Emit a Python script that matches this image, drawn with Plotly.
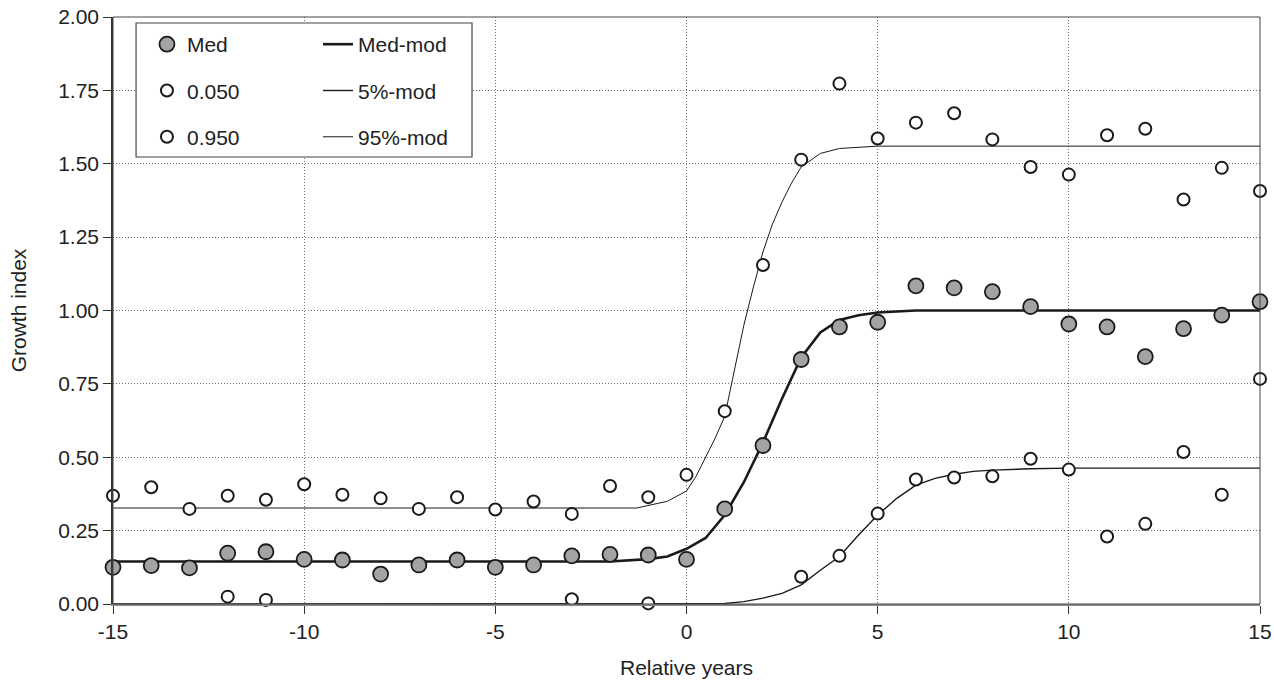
import plotly.graph_objects as go

# ---- data ----
years = list(range(-15, 16))
med = [0.125, 0.131, 0.123, 0.173, 0.178, 0.152, 0.150, 0.102, 0.133, 0.150,
       0.125, 0.133, 0.164, 0.169, 0.167, 0.152, 0.324, 0.540, 0.833, 0.944,
       0.960, 1.084, 1.077, 1.064, 1.013, 0.954, 0.944, 0.843, 0.938, 0.984, 1.030]
q050 = [None, None, None, 0.025, 0.014, None, None, None, None, None,
        None, None, 0.016, None, 0.002, None, None, None, 0.093, 0.164,
        0.308, 0.424, 0.431, 0.435, 0.495, 0.458, 0.230, 0.273, 0.518, 0.372, 0.767]
q950 = [0.369, 0.398, 0.324, 0.369, 0.355, 0.408, 0.372, 0.360, 0.324, 0.364,
        0.322, 0.349, 0.307, 0.402, 0.364, 0.440, 0.657, 1.155, 1.514, 1.773,
        1.586, 1.640, 1.672, 1.583, 1.489, 1.463, 1.597, 1.619, 1.378, 1.486, 1.407]

med_mod_x = [-15, -2, -1, -0.5, 0, 0.5, 1, 1.5, 2, 2.5, 3, 3.5, 4, 4.5, 5, 6, 15]
med_mod_y = [0.145, 0.145, 0.153, 0.162, 0.188, 0.225, 0.303, 0.415, 0.55, 0.70,
             0.84, 0.925, 0.968, 0.984, 0.993, 1.0, 1.0]
p05_mod_x = [-15, 0, 1, 1.5, 2, 2.5, 3, 3.5, 4, 4.5, 5, 5.5, 6, 6.5, 7, 7.5, 8, 9, 10, 15]
p05_mod_y = [0.0, 0.0, 0.002, 0.008, 0.02, 0.036, 0.065, 0.115, 0.162, 0.235, 0.303,
             0.36, 0.405, 0.428, 0.442, 0.452, 0.456, 0.461, 0.463, 0.463]
p95_mod_x = [-15, -1.3, -0.5, 0, 0.25, 0.5, 0.75, 1, 1.25, 1.5, 1.75, 2, 2.25, 2.5,
             2.75, 3, 3.5, 4, 5, 15]
p95_mod_y = [0.327, 0.327, 0.35, 0.385, 0.435, 0.50, 0.565, 0.639, 0.79, 0.95, 1.08,
             1.20, 1.295, 1.37, 1.435, 1.489, 1.535, 1.552, 1.56, 1.56]

x_ticks = [-15, -10, -5, 0, 5, 10, 15]
y_ticks = [0, 0.25, 0.5, 0.75, 1.0, 1.25, 1.5, 1.75, 2.0]

# ---- style ----
FONT = "Liberation Sans, Arial, sans-serif"
TXT = "#222222"
FS = 21
GRID_DASH = "1px,2px"

fig = go.Figure()

# model lines (drawn first, below markers)
fig.add_trace(go.Scatter(x=med_mod_x, y=med_mod_y, mode="lines", name="Med-mod",
                         line=dict(color="#1a1a1a", width=2.6),
                         legend="legend2", legendgroup="a"))
fig.add_trace(go.Scatter(x=p05_mod_x, y=p05_mod_y, mode="lines", name="5%-mod",
                         line=dict(color="#1a1a1a", width=1.4),
                         legend="legend2", legendgroup="b"))
fig.add_trace(go.Scatter(x=p95_mod_x, y=p95_mod_y, mode="lines", name="95%-mod",
                         line=dict(color="#1a1a1a", width=1.0),
                         legend="legend2", legendgroup="c"))

# data markers
fig.add_trace(go.Scatter(x=years, y=med, mode="markers", name="Med",
                         marker=dict(symbol="circle", size=15, color="#a3a3a3",
                                     line=dict(color="#1a1a1a", width=1.8)),
                         cliponaxis=False, legend="legend", legendgroup="d"))
fig.add_trace(go.Scatter(x=years, y=q050, mode="markers", name="0.050",
                         marker=dict(symbol="circle", size=12, color="white",
                                     line=dict(color="#1a1a1a", width=2)),
                         cliponaxis=False, legend="legend", legendgroup="e"))
fig.add_trace(go.Scatter(x=years, y=q950, mode="markers", name="0.950",
                         marker=dict(symbol="circle", size=12, color="white",
                                     line=dict(color="#1a1a1a", width=2)),
                         cliponaxis=False, legend="legend", legendgroup="f"))

legend_common = dict(bgcolor="rgba(0,0,0,0)", borderwidth=0,
                     font=dict(family=FONT, size=FS, color=TXT),
                     tracegroupgap=16, xanchor="left", yanchor="top",
                     orientation="v")

fig.update_layout(
    width=1274, height=685,
    margin=dict(l=113, r=14, t=17, b=81, autoexpand=False),
    paper_bgcolor="white", plot_bgcolor="white",
    font=dict(family=FONT, size=FS, color=TXT),
    legend=dict(x=0.0296, y=0.988, **legend_common),
    legend2=dict(x=0.1787, y=0.988, **legend_common),
    xaxis=dict(range=[-15, 15], tickvals=x_ticks, ticktext=[str(v) for v in x_ticks],
               automargin=False,
               showgrid=True, gridcolor="#6a6a6a", griddash=GRID_DASH, gridwidth=1,
               zeroline=False, showline=True, linecolor="#8a8a8a", linewidth=2,
               ticks="outside", ticklen=8, tickcolor="#333333", tickwidth=1,
               ticklabeloverflow="allow",
               tickfont=dict(family=FONT, size=FS, color=TXT),
               title=dict(text="Relative years", standoff=18,
                          font=dict(family=FONT, size=FS, color=TXT))),
    yaxis=dict(range=[0, 2], tickvals=y_ticks, tickformat=".2f",
               automargin=False,
               showgrid=True, gridcolor="#6a6a6a", griddash=GRID_DASH, gridwidth=1,
               zeroline=False, showline=True, linecolor="#333333", linewidth=1.5,
               ticks="outside", ticklen=8, tickcolor="#333333", tickwidth=1,
               tickfont=dict(family=FONT, size=FS, color=TXT),
               title=dict(text="Growth index", standoff=26,
                          font=dict(family=FONT, size=FS, color=TXT))),
    showlegend=True,
    shapes=[
        # plot-area frame
        dict(type="rect", xref="paper", yref="paper", x0=0, x1=1, y0=0, y1=1,
             line=dict(color="#444444", width=1), fillcolor="rgba(0,0,0,0)",
             layer="above"),
        # legend box
        dict(type="rect", xref="paper", yref="paper", x0=0.0201, x1=0.313,
             y0=0.7615, y1=0.9898, line=dict(color="#444444", width=1.2),
             fillcolor="white", layer="above"),
    ],
)

fig.write_html("out.html",
               config={"displayModeBar": False},
               post_script="document.body.style.margin='0px';"
                           "document.body.style.overflow='hidden';")
